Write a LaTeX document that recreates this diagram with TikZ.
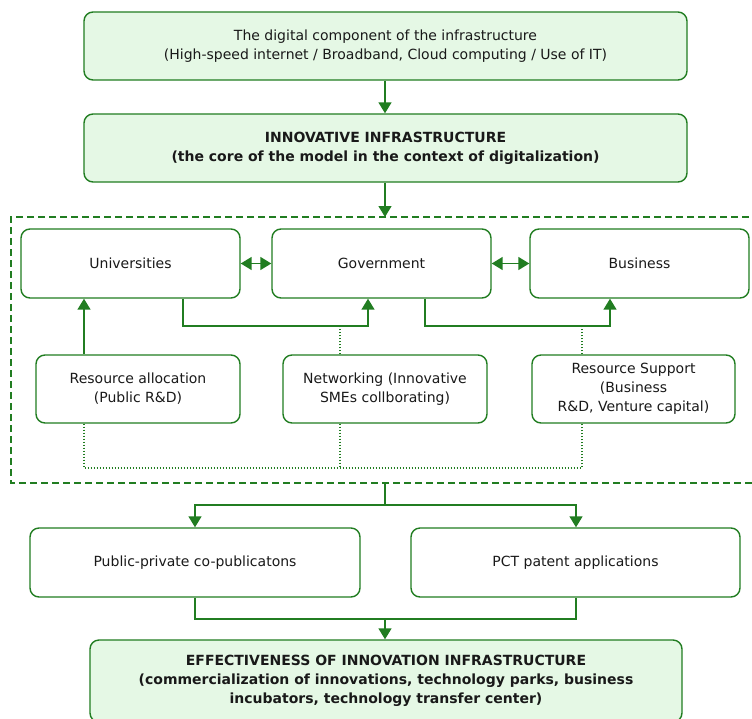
\documentclass[tikz,border=0pt]{standalone}
\usepackage{fontspec}
\setmainfont{DejaVu Sans}
\usetikzlibrary{arrows.meta}
\definecolor{gline}{RGB}{33,125,33}
\definecolor{gfill}{RGB}{229,248,229}
\definecolor{txt}{RGB}{25,25,25}
\tikzset{
  box/.style={draw=gline, line width=1.4pt, rounded corners=9pt, inner sep=2pt, align=center, text=txt,
    font=\fontsize{14}{19}\selectfont},
  gbox/.style={box, fill=gfill},
  con/.style={draw=gline, line width=1.5pt},
  arr/.style={con, -{Triangle[length=11pt,width=13pt]}},
  darr/.style={con, {Triangle[length=11pt,width=13pt]}-{Triangle[length=11pt,width=13pt]}},
  dot/.style={draw=gline, line width=1.2pt, dash pattern=on 1.5pt off 1.5pt},
  dsh/.style={draw=gline, line width=1.6pt, dash pattern=on 7pt off 4pt},
}
\newcommand{\bx}[6]{% name, x1, y1, x2, y2, style
  \node[#6, minimum width={(#4-#2)*1pt}, minimum height={(#5-#3)*1pt}] (#1) at ({(#2+#4)/2},{(#3+#5)/2})}
\begin{document}
\begin{tikzpicture}[x=1pt,y=-1pt]
\useasboundingbox (0,0) rectangle (752,718);
% dashed region (right edge outside the picture)
\draw[dsh] (760,217) -- (11,217) -- (11,483) -- (760,483);
\bx{top}{84}{12}{687}{80}{gbox}{The digital component of the infrastructure\\(High-speed internet / Broadband, Cloud computing / Use of IT)};
\bx{core}{84}{114}{687}{182}{gbox}{\bfseries INNOVATIVE INFRASTRUCTURE\\\bfseries(the core of the model in the context of digitalization)};
\bx{univ}{21}{229}{240}{298}{box}{Universities};
\bx{gov}{272}{229}{491}{298}{box}{Government};
\bx{bus}{530}{229}{749}{298}{box}{Business};
\bx{ra}{36}{355}{240}{423}{box}{Resource allocation\\(Public R\&D)};
\bx{net}{283}{355}{487}{423}{box}{Networking (Innovative\\SMEs collborating)};
\bx{rs}{532}{355}{735}{423}{box}{Resource Support\\(Business\\R\&D, Venture capital)};
\bx{pp}{30}{528}{360}{597}{box}{Public-private co-publicatons};
\bx{pct}{411}{528}{740}{597}{box}{PCT patent applications};
\bx{eff}{90}{640}{682}{722}{gbox}{\bfseries EFFECTIVENESS OF INNOVATION INFRASTRUCTURE\\\bfseries(commercialization of innovations, technology parks, business\\\bfseries incubators, technology transfer center)};
% coordinates
\coordinate (dtop) at (385,217);
\coordinate (dbot) at (385,483);
\coordinate (split) at (385,505);
\coordinate (merge) at (385,619);
% arrows
\draw[arr] (top.south -| 385,0) -- (core.north -| 385,0);
\draw[arr] (core.south -| 385,0) -- (dtop);
\draw[darr] (univ.east) -- (gov.west);
\draw[darr] (gov.east) -- (bus.west);
\draw[arr] (ra.north -| 84,0) -- (univ.south -| 84,0);
\draw[arr] (univ.south -| 183,0) |- (368,326) -- (gov.south -| 368,0);
\draw[arr] (gov.south -| 425,0) |- (610,326) -- (bus.south -| 610,0);
\draw[dot] (net.north -| 340,0) -- (340,326);
\draw[dot] (rs.north -| 582,0) -- (582,326);
\draw[dot] (ra.south -| 84,0) |- (582,468) -- (rs.south -| 582,0);
\draw[dot] (net.south -| 340,0) -- (340,468);
% bottom
\draw[con] (dbot) -- (split);
\draw[arr] (split) -| (pp.north -| 195,0);
\draw[arr] (split) -| (pct.north -| 576,0);
\draw[con] (pp.south -| 195,0) |- (merge) -| (pct.south -| 576,0);
\draw[arr] (merge) -- (eff.north -| 385,0);
\end{tikzpicture}
\end{document}
